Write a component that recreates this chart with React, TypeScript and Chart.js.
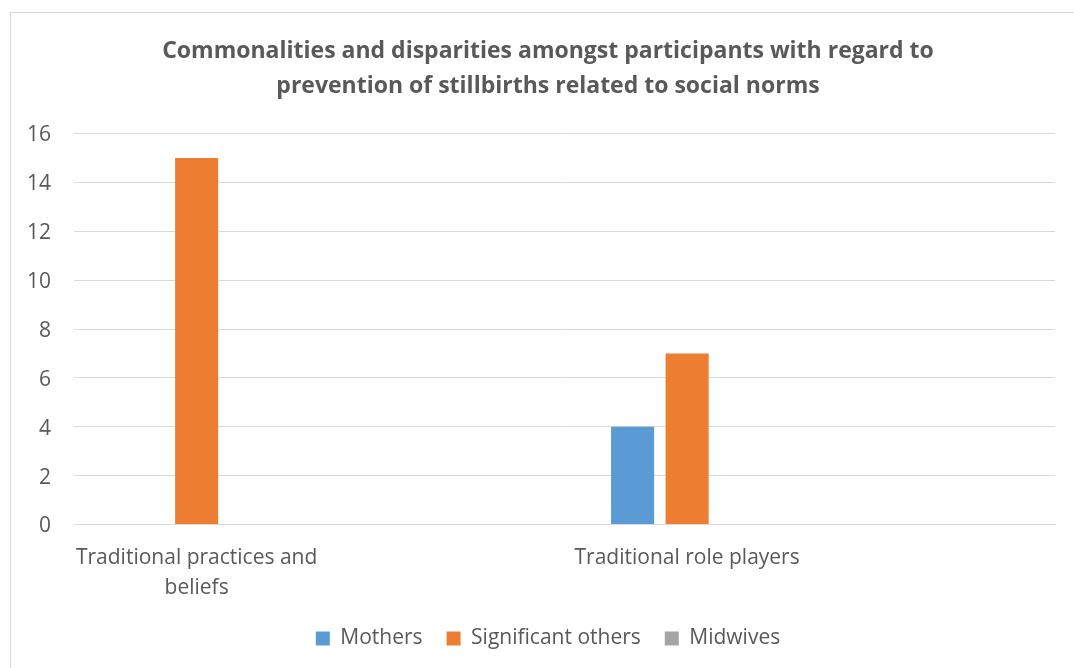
import { useEffect, useRef } from "react";
import { Chart, registerables } from "chart.js";

Chart.register(...registerables);

// Categories (the blank entries are empty slots on the category axis)
const categories: (string | string[])[] = [
  ["Traditional practices and", "beliefs"],
  "",
  "Traditional role players",
  "",
];
const mothers = [0, 0, 4, 0];
const significantOthers = [15, 0, 7, 0];
const midwives = [0, 0, 0, 0];

const titleLines = [
  "Commonalities and disparities amongst participants with regard to",
  "prevention of stillbirths related to social norms",
];
const yMin = 0;
const yMax = 16;
const yStep = 2;

const FONT = "'Open Sans', 'DejaVu Sans', sans-serif";
const TEXT = "#595959";
const GRID = "#d9d9d9";

export default function App() {
  const ref = useRef<HTMLCanvasElement | null>(null);

  useEffect(() => {
    if (!ref.current) return;
    const chart = new Chart(ref.current, {
      type: "bar",
      data: {
        labels: categories,
        datasets: [
          { label: "Mothers", data: mothers, backgroundColor: "#5B9BD5" },
          { label: "Significant others", data: significantOthers, backgroundColor: "#ED7D31" },
          { label: "Midwives", data: midwives, backgroundColor: "#A5A5A5" },
        ],
      },
      options: {
        responsive: false,
        animation: false,
        datasets: {
          bar: { categoryPercentage: 0.667, barPercentage: 0.79 },
        },
        layout: { padding: { left: 0, right: 0, top: 0, bottom: 9 } },
        plugins: {
          title: {
            display: true,
            text: titleLines,
            color: TEXT,
            font: { family: FONT, size: 23, weight: "bold", lineHeight: 35 / 23 },
            padding: { top: 21, bottom: 29.5 },
          },
          legend: {
            position: "bottom",
            labels: {
              color: TEXT,
              boxWidth: 14,
              boxHeight: 14,
              padding: 24,
              font: { family: FONT, size: 21 },
            },
          },
          tooltip: { enabled: false },
        },
        scales: {
          x: {
            grid: { display: false, drawTicks: false },
            border: { display: true, color: GRID, width: 1 },
            ticks: {
              color: TEXT,
              padding: 19,
              maxRotation: 0,
              autoSkip: false,
              font: { family: FONT, size: 21, lineHeight: 30 / 21 },
            },
            afterFit: (scale: any) => {
              scale.height = 79.5;
            },
          },
          y: {
            min: yMin,
            max: yMax,
            grid: { color: GRID, lineWidth: 1, drawTicks: false },
            border: { display: false },
            ticks: {
              stepSize: yStep,
              color: TEXT,
              padding: 23,
              labelOffset: 2,
              font: { family: FONT, size: 21 },
            },
            afterFit: (scale: any) => {
              scale.width = 63;
            },
          },
          // empty right-hand margin between the plot and the chart edge
          margin: {
            type: "linear",
            position: "right",
            display: true,
            grid: { display: false, drawTicks: false },
            border: { display: false },
            ticks: { display: false },
            afterFit: (scale: any) => {
              scale.width = 30;
            },
          },
        },
      },
    });
    return () => chart.destroy();
  }, []);

  return (
    <div style={{ position: "fixed", inset: 0, overflow: "hidden", background: "#fff" }}>
      <div
        style={{
          position: "absolute",
          left: 10,
          top: 12,
          width: 1100,
          height: 700,
          border: `1px solid ${GRID}`,
          boxSizing: "border-box",
        }}
      >
        <canvas ref={ref} width={1074} height={655} style={{ display: "block" }} />
      </div>
    </div>
  );
}
